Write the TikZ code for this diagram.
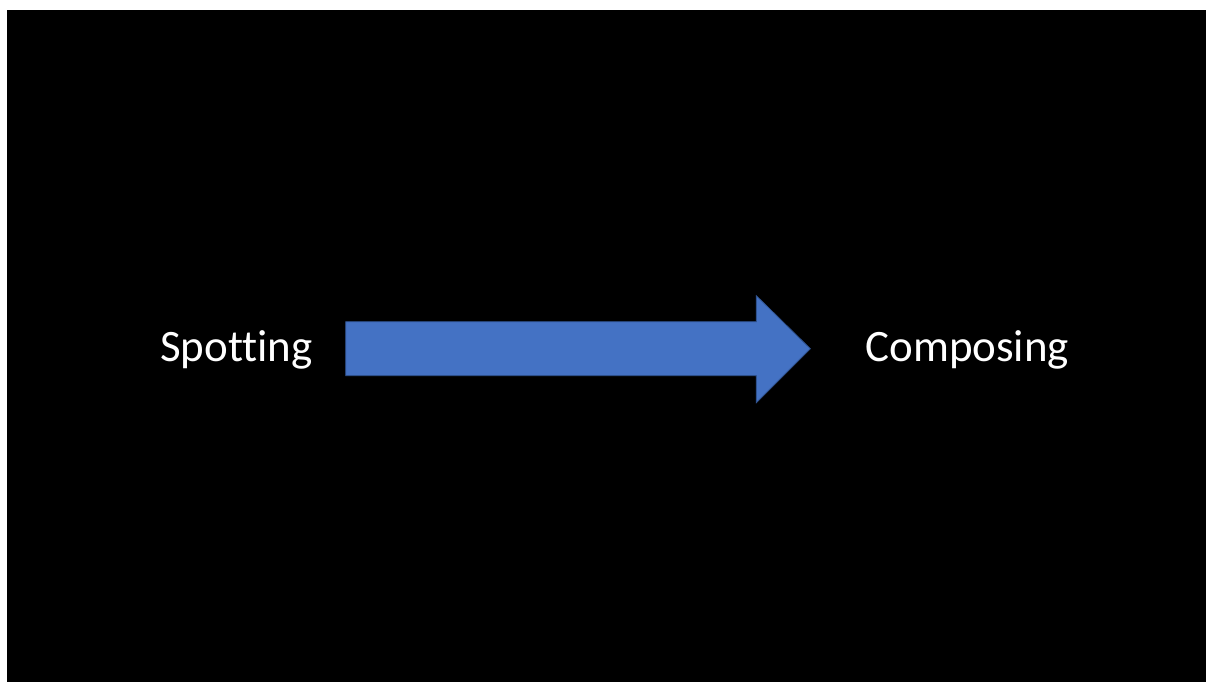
\documentclass[tikz,border=0pt]{standalone}
\usepackage{fontspec}
\setmainfont{Carlito}[Ligatures=NoCommon]
\definecolor{slidebg}{HTML}{000000}
\definecolor{arrowfill}{HTML}{4472C4}
\definecolor{arrowline}{HTML}{2F528F}
\begin{document}
\begin{tikzpicture}[x=1pt,y=-1pt,
  label text/.style={text=white,font=\fontsize{45}{54}\selectfont,inner sep=0pt,anchor=base west},
  block arrow/.style={fill=arrowfill,draw=arrowline,line width=0.8pt,line join=miter}]
  % page and slide area
  \fill[white] (0,0) rectangle (1206,682);
  \fill[slidebg] (7,10) rectangle (1207,683);
  \useasboundingbox (0,0) rectangle (1206,682);
  % labels
  \node[label text] (spot) at (160,362) {Spotting};
  \node[label text] (comp) at (866,362) {Composing};
  % block arrow between the two labels
  \coordinate (tail) at (346,349);
  \coordinate (tip) at (811,349);
  \draw[block arrow] (tail) ++(0,-27) -- (757,322) -- (757,296) -- (tip)
    -- (757,403) -- (757,376) -- (346,376) -- cycle;
\end{tikzpicture}
\end{document}
